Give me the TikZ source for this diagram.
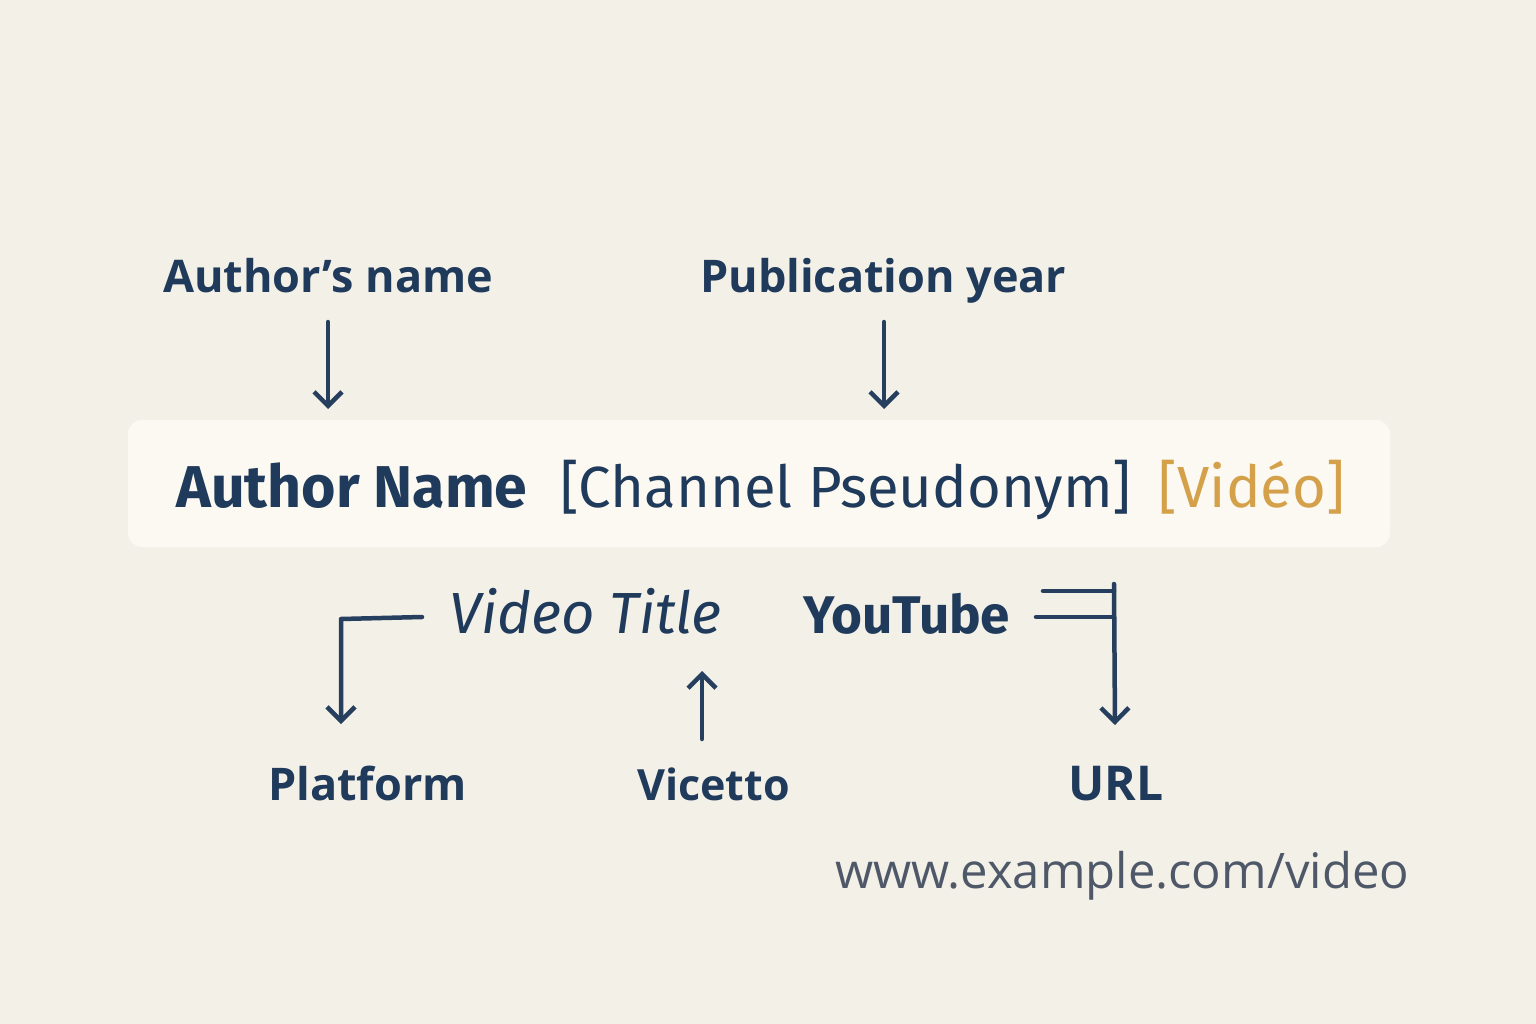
\documentclass[tikz,border=0pt]{standalone}
\usepackage{fontspec}
\setmainfont{Open Sans}
\newfontfamily\fira{Fira Sans}
\usetikzlibrary{arrows.meta}
\definecolor{bg}{HTML}{F3F0E7}
\definecolor{boxfill}{HTML}{FBF9F2}
\definecolor{navy}{HTML}{1F3A5A}
\definecolor{linecol}{HTML}{263F5E}
\definecolor{gold}{HTML}{D4A04A}
\definecolor{urlgray}{HTML}{4E5868}
\tikzset{
  lbl/.style={anchor=base west, inner sep=0pt, text=navy},
  conn/.style={draw=linecol, line width=4.5pt, line cap=round, line join=round},
  arr/.style={conn, -{Straight Barb[length=14pt, width=28pt, line width=4.5pt]}},
}
\begin{document}
\begin{tikzpicture}[x=1pt, y=-1pt]
\useasboundingbox (0,0) rectangle (1536,1024);
\fill[bg] (0,0) rectangle (1536,1024);
\fill[boxfill, rounded corners=14pt] (128,420) rectangle (1390,547);

% top labels
\node[lbl, font=\fontsize{45}{50}\selectfont\bfseries] (an) at (163,292) {Author’s name};
\node[lbl, font=\fontsize{45}{50}\selectfont\bfseries] (py) at (700,293) {Publication year};

% box content
\node[lbl, font=\fira\fontsize{59}{62}\selectfont\bfseries] (name) at (176,507) {Author Name};
\node[lbl, font=\fira\fontsize{58}{62}\selectfont] (chan) at (560,507) {[Channel Pseudonym]};
\node[lbl, text=gold, font=\fira\fontsize{58}{62}\selectfont] (vid) at (1158,507) {[Vidéo]};

% middle row
\node[lbl, font=\fira\fontsize{58}{62}\selectfont\itshape] (title) at (449,633) {Video Title};
\node[lbl, font=\fira\fontsize{53}{58}\selectfont\bfseries] (yt) at (803,633) {YouTube};

% bottom labels
\node[lbl, font=\fontsize{45}{50}\selectfont\bfseries] (plat) at (268,800) {Platform};
\node[lbl, font=\fontsize{43}{50}\selectfont\bfseries] (vic) at (637,800) {Vicetto};
\node[lbl, font=\fontsize{48}{50}\selectfont\bfseries] (url) at (1068,800) {URL};
\node[lbl, text=urlgray, font=\fontsize{49}{52}\selectfont] (www) at (835,888) {www.example.com/video};

% connectors
\coordinate (a1) at (328,322); \coordinate (a2) at (328,409);
\draw[arr] (a1) -- (a2);
\coordinate (p1) at (884,322); \coordinate (p2) at (884,409);
\draw[arr] (p1) -- (p2);

\coordinate (l1) at (422,617); \coordinate (l2) at (341,619); \coordinate (l3) at (341,724);
\draw[arr] (l1) -- (l2) -- (l3);

\coordinate (v1) at (702,739); \coordinate (v2) at (702,671);
\draw[arr] (v1) -- (v2);

\coordinate (y1) at (1043,591); \coordinate (y2) at (1114,591);
\coordinate (y3) at (1036,617); \coordinate (y4) at (1114,617);
\coordinate (y5) at (1114,584); \coordinate (y6) at (1115,725);
\draw[conn] (y1) -- (y2);
\draw[conn] (y3) -- (y4);
\draw[arr] (y5) -- (y6);
\end{tikzpicture}
\end{document}
